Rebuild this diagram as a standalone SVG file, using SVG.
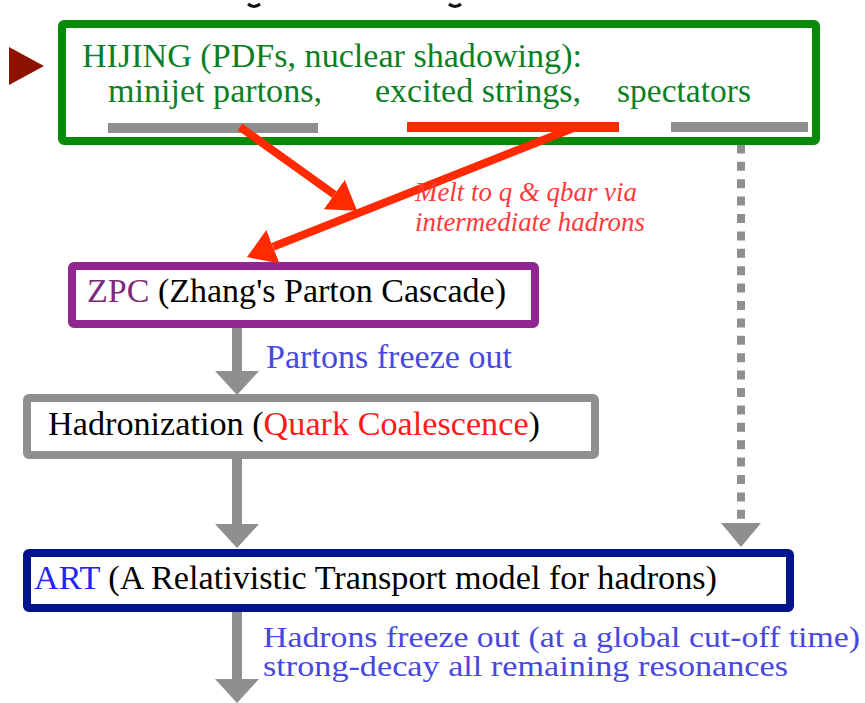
<svg xmlns="http://www.w3.org/2000/svg" width="865" height="703" viewBox="0 0 865 703" font-family="'Liberation Serif', 'Times New Roman', Times, serif">
<style>
  .green { fill: #0c7f25; font-size: 34px; }
  .black { fill: #000000; }
  .cap { fill: #4848e0; }
  .box { fill: #ffffff; stroke-width: 8; stroke-linejoin: round; }
  .gray { stroke: #8f8f8f; }
  .bar { stroke-width: 10; }
</style>
<defs>
  <marker id="redHead" markerUnits="userSpaceOnUse" markerWidth="28" markerHeight="36" refX="0" refY="18" orient="auto">
    <path d="M0,0 L28,18 L0,36 z" fill="#ff2a00"/>
  </marker>
  <marker id="grayHead" markerUnits="userSpaceOnUse" markerWidth="24" markerHeight="44" refX="0" refY="22" orient="auto">
    <path d="M0,0 L24,22 L0,44 z" fill="#8f8f8f"/>
  </marker>
  <marker id="grayHeadS" markerUnits="userSpaceOnUse" markerWidth="24" markerHeight="40" refX="0" refY="20" orient="auto">
    <path d="M0,0 L24,20 L0,40 z" fill="#8f8f8f"/>
  </marker>
</defs>

<!-- cut-off fragments at top -->
<path d="M248,4 Q254,9 260,4" fill="none" stroke="#111" stroke-width="3"/>
<path d="M449,4 Q455,9 461,4" fill="none" stroke="#111" stroke-width="3"/>

<!-- input marker -->
<polygon id="pointer" points="9,47 44,66 9,85" fill="#8b1300"/>

<g id="connectors">
  <line x1="741" y1="127" x2="741" y2="523" stroke="#8f8f8f" stroke-width="8" stroke-dasharray="9 8.4" marker-end="url(#grayHeadS)"/>
</g>

<g id="hijing">
  <rect class="box" x="62" y="24" width="754" height="117" rx="2" stroke="#078a07"/>
  <text class="green" x="82" y="67" textLength="500" lengthAdjust="spacingAndGlyphs">HIJING (PDFs, nuclear shadowing):</text>
  <text class="green" x="108" y="102" textLength="214" lengthAdjust="spacingAndGlyphs">minijet partons,</text>
  <text class="green" x="375" y="102" textLength="206" lengthAdjust="spacingAndGlyphs">excited strings,</text>
  <text class="green" x="617" y="102" textLength="134" lengthAdjust="spacingAndGlyphs">spectators</text>
  <line x1="108" y1="128" x2="318" y2="128" class="gray bar"/>
  <line x1="407" y1="127" x2="619" y2="127" stroke="#ff2a00" class="bar"/>
  <line x1="671" y1="127" x2="808" y2="127" class="gray bar"/>
</g>

<g id="zpc">
  <rect class="box" x="72" y="266" width="463" height="58" rx="2" stroke="#922690"/>
  <text x="87" y="302" font-size="34" textLength="419" lengthAdjust="spacingAndGlyphs"><tspan fill="#7e2a7e">ZPC</tspan><tspan class="black"> (Zhang's Parton Cascade)</tspan></text>
</g>

<g id="hadronization">
  <rect class="box" x="27" y="398" width="568" height="57" rx="2" stroke="#8f8f8f"/>
  <text x="48" y="435" font-size="34" textLength="492" lengthAdjust="spacingAndGlyphs"><tspan class="black">Hadronization (</tspan><tspan fill="#ff1a1a">Quark Coalescence</tspan><tspan class="black">)</tspan></text>
</g>

<g id="art">
  <rect class="box" x="27" y="553" width="763" height="55" rx="2" stroke="#02138e"/>
  <text x="34" y="589" font-size="34" textLength="683" lengthAdjust="spacingAndGlyphs"><tspan fill="#2424f0">ART</tspan><tspan class="black"> (A Relativistic Transport model for hadrons)</tspan></text>
</g>

<g id="connectors-main">
  <line x1="240" y1="127" x2="334.3" y2="194.5" stroke="#ff2a00" stroke-width="8" marker-end="url(#redHead)"/>
  <line x1="576" y1="127" x2="273" y2="246.8" stroke="#ff2a00" stroke-width="8" marker-end="url(#redHead)"/>
  <line x1="237" y1="328" x2="237" y2="371" stroke="#8f8f8f" stroke-width="10" marker-end="url(#grayHead)"/>
  <line x1="237" y1="459" x2="237" y2="524" stroke="#8f8f8f" stroke-width="10" marker-end="url(#grayHead)"/>
  <line x1="237" y1="612" x2="237" y2="679" stroke="#8f8f8f" stroke-width="10" marker-end="url(#grayHead)"/>
</g>

<g id="labels">
  <text x="415" y="201" font-size="27" font-style="italic" fill="#ff3a3a" textLength="222" lengthAdjust="spacingAndGlyphs">Melt to q &amp; qbar via</text>
  <text x="415" y="231" font-size="27" font-style="italic" fill="#ff3a3a" textLength="230" lengthAdjust="spacingAndGlyphs">intermediate hadrons</text>
  <text class="cap" x="266" y="368" font-size="34" textLength="246" lengthAdjust="spacingAndGlyphs">Partons freeze out</text>
  <text class="cap" x="263" y="647" font-size="30" textLength="597" lengthAdjust="spacingAndGlyphs">Hadrons freeze out (at a global cut-off time)</text>
  <text class="cap" x="263" y="676" font-size="30" textLength="525" lengthAdjust="spacingAndGlyphs">strong-decay all remaining resonances</text>
</g>
</svg>
